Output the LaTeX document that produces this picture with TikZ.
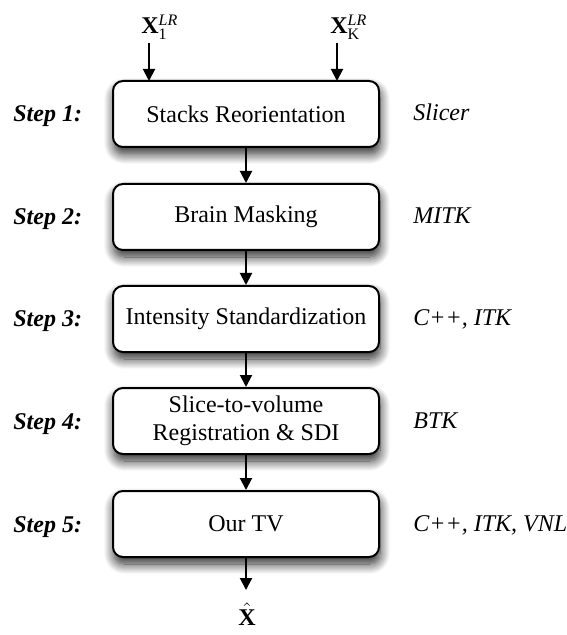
\documentclass[tikz,border=0pt]{standalone}
\usepackage{fontspec}
\setmainfont{Liberation Serif}
\usetikzlibrary{arrows.meta,shadows.blur}

\newcommand{\basesize}{\fontsize{12}{14}\selectfont}

\tikzset{
  stepbox/.style={draw=black, line width=1pt, rounded corners=5pt, fill=white,
    minimum width=133pt, minimum height=33pt, align=center, inner sep=2pt,
    font=\basesize,
    blur shadow={shadow xshift=0.5pt, shadow yshift=-3.5pt, shadow blur radius=5pt,
      shadow blur steps=12, shadow opacity=85}},
  steplabel/.style={anchor=base west, font=\basesize\bfseries\itshape, inner sep=0pt},
  toollabel/.style={anchor=base west, font=\basesize\itshape, inner sep=0pt},
  flow/.style={line width=1pt, -{Triangle[length=6pt,width=6pt]}},
}

\begin{document}
\begin{tikzpicture}[x=0.5pt,y=-0.5pt,font=\basesize]
\useasboundingbox (0,0) rectangle (566,635);

% processing boxes
\node[stepbox] (s1) at (246,114) {Stacks Reorientation};
\node[stepbox] (s2) at (246,217) {Brain Masking};
\node[stepbox] (s3) at (246,319) {Intensity Standardization};
\node[stepbox] (s4) at (246,421) {Slice-to-volume\\Registration \& SDI};
\node[stepbox] (s5) at (246,524) {Our TV};

% step names on the left, on the baseline of the box text
\node[steplabel] (l1) at (13,122) {Step 1:};
\node[steplabel] (l2) at (13,225) {Step 2:};
\node[steplabel] (l3) at (13,327) {Step 3:};
\node[steplabel] (l4) at (13,429) {Step 4:};
\node[steplabel] (l5) at (13,532) {Step 5:};

% software on the right
\node[toollabel] (t1) at (413,121) {Slicer};
\node[toollabel] (t2) at (413,224) {MITK};
\node[toollabel] (t3) at (413,326) {C++, ITK};
\node[toollabel] (t4) at (413,428) {BTK};
\node[toollabel] (t5) at (413,531) {C++, ITK, VNL};

% inputs and output
\node[anchor=base west, inner sep=0pt] (in1) at (141,34) {$\mathbf{X}_{\mathrm{1}}^{\mathit{LR}}$};
\node[anchor=base west, inner sep=0pt] (inK) at (330,34) {$\mathbf{X}_{\mathrm{K}}^{\mathit{LR}}$};
\node[inner sep=0pt] (out) at (247,614) {$\hat{\mathbf{X}}$};

\coordinate (a1) at (149,43);
\coordinate (aK) at (337,43);
\coordinate (b1) at (149,81);
\coordinate (bK) at (337,81);
\coordinate (o1) at (246,590);

% connectors
\draw[flow] (a1) -- (b1);
\draw[flow] (aK) -- (bK);
\draw[flow] (s1) -- (s2);
\draw[flow] (s2) -- (s3);
\draw[flow] (s3) -- (s4);
\draw[flow] (s4) -- (s5);
\draw[flow] (s5) -- (o1);
\end{tikzpicture}
\end{document}
